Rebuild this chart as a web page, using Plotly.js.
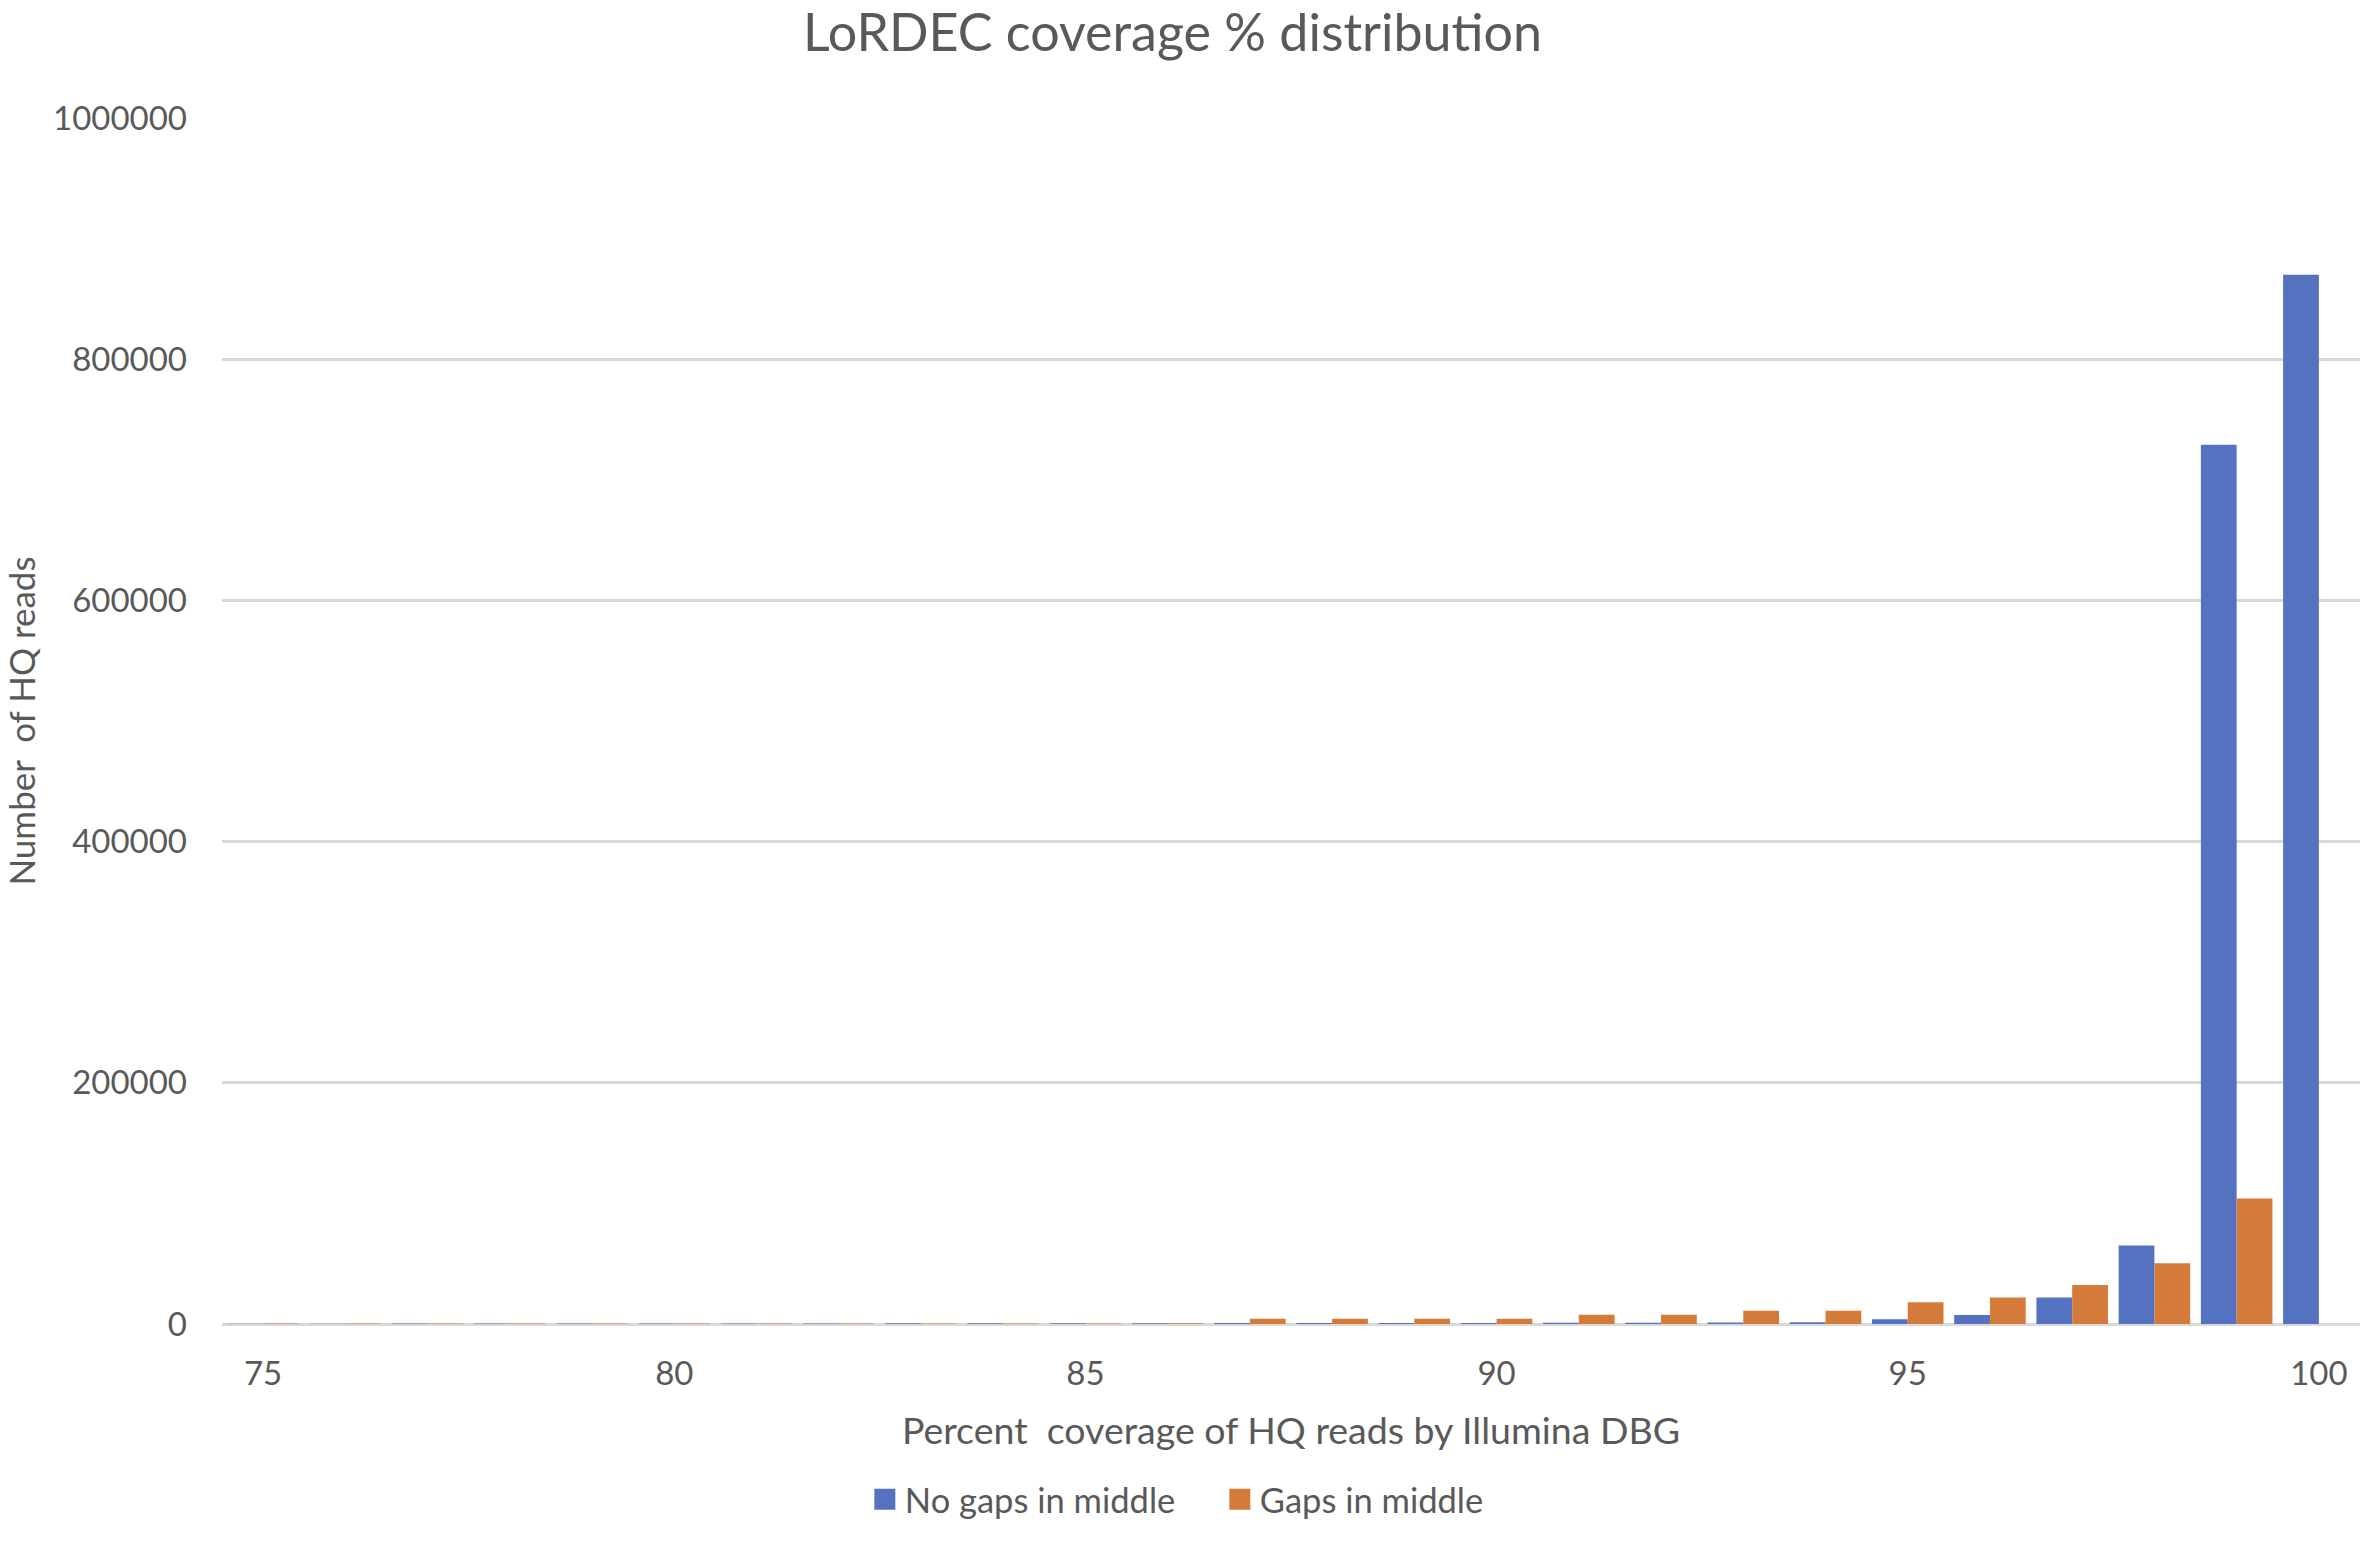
<!DOCTYPE html>
<html>
<head>
<meta charset="utf-8">
<script src="https://cdn.plot.ly/plotly-3.0.1.min.js"></script>
<style>
  html, body { margin: 0; padding: 0; background: #fff; }
  #chart { width: 2364px; height: 1565px; }
</style>
</head>
<body>
<div id="chart"></div>
<script>
// percent coverage categories (75 .. 100)
var coverage = [75, 76, 77, 78, 79, 80, 81, 82, 83, 84, 85, 86, 87,
                88, 89, 90, 91, 92, 93, 94, 95, 96, 97, 98, 99, 100];

// number of HQ reads
var noGaps = [300, 300, 350, 350, 400, 400, 450, 500, 550, 600, 650, 700, 750,
              800, 850, 900, 1000, 1100, 1200, 1500, 4000, 7400, 22000, 65000, 729000, 870000];
var withGaps = [500, 500, 500, 500, 500, 500, 500, 500, 500, 500, 500, 600, 4400,
                4400, 4400, 4400, 7600, 7600, 10900, 10900, 18000, 22000, 32300, 50300, 104000, 0];

var xTicks = [75, 80, 85, 90, 95, 100];
var yTicks = [0, 200000, 400000, 600000, 800000, 1000000];

var textColor = '#595959';
var gridColor = '#d9d9d9';
var fontName = 'Lato, "Open Sans", sans-serif';

var traces = [
    {
        x: coverage,
        y: noGaps,
        name: 'No gaps in middle',
        type: 'bar',
        marker: { color: '#5572c1' }
    },
    {
        x: coverage,
        y: withGaps,
        name: 'Gaps in middle',
        type: 'bar',
        marker: { color: '#d57b3a' }
    }
];

var layout = {
    width: 2364,
    height: 1565,
    barmode: 'group',
    bargap: 0.13,
    bargroupgap: 0,
    paper_bgcolor: '#fff',
    plot_bgcolor: '#fff',
    font: { family: fontName, color: textColor, size: 33 },
    margin: { l: 222, r: 4, t: 118, b: 241, pad: 0 },
    title: {
        text: 'LoRDEC coverage % distribution',
        font: { size: 52, color: textColor },
        x: 0.496,
        xanchor: 'center',
        y: 0.979,
        yanchor: 'middle'
    },
    xaxis: {
        range: [74.5, 100.5],
        tickvals: xTicks,
        ticktext: xTicks.map(String),
        showgrid: false,
        zeroline: false,
        showline: false,
        ticks: '',
        ticklabelstandoff: 27,
        automargin: false,
        tickfont: { size: 33, color: textColor },
        title: {
            text: 'Percent&nbsp; coverage of HQ reads by Illumina DBG',
            font: { size: 37.5, color: textColor },
            standoff: 26
        }
    },
    yaxis: {
        range: [0, 1000000],
        tickvals: yTicks,
        ticktext: yTicks.map(String),
        showgrid: true,
        gridcolor: gridColor,
        gridwidth: 3,
        zeroline: true,
        zerolinecolor: gridColor,
        zerolinewidth: 3,
        showline: false,
        ticks: '',
        ticklabelstandoff: 34,
        automargin: false,
        tickfont: { size: 33, color: textColor },
        title: {
            text: 'Number&nbsp; of HQ reads',
            font: { size: 35, color: textColor },
            standoff: 14
        }
    },
    showlegend: true,
    legend: {
        orientation: 'h',
        xref: 'container',
        yref: 'container',
        x: 0.516,
        xanchor: 'center',
        y: 0.042,
        yanchor: 'middle',
        font: { size: 34.5, color: textColor },
        itemwidth: 30,
        entrywidth: 310,
        tracegroupgap: 0
    }
};

Plotly.newPlot('chart', traces, layout, { displayModeBar: false, staticPlot: true }).then(function (gd) {
    // Excel draws bigger legend swatches than plotly's default 12px square
    gd.querySelectorAll('.legendpoints path').forEach(function (p) {
        var t = p.getAttribute('transform') || '';
        p.setAttribute('transform', t + ' scale(1.75)');
    });
});
</script>
</body>
</html>
